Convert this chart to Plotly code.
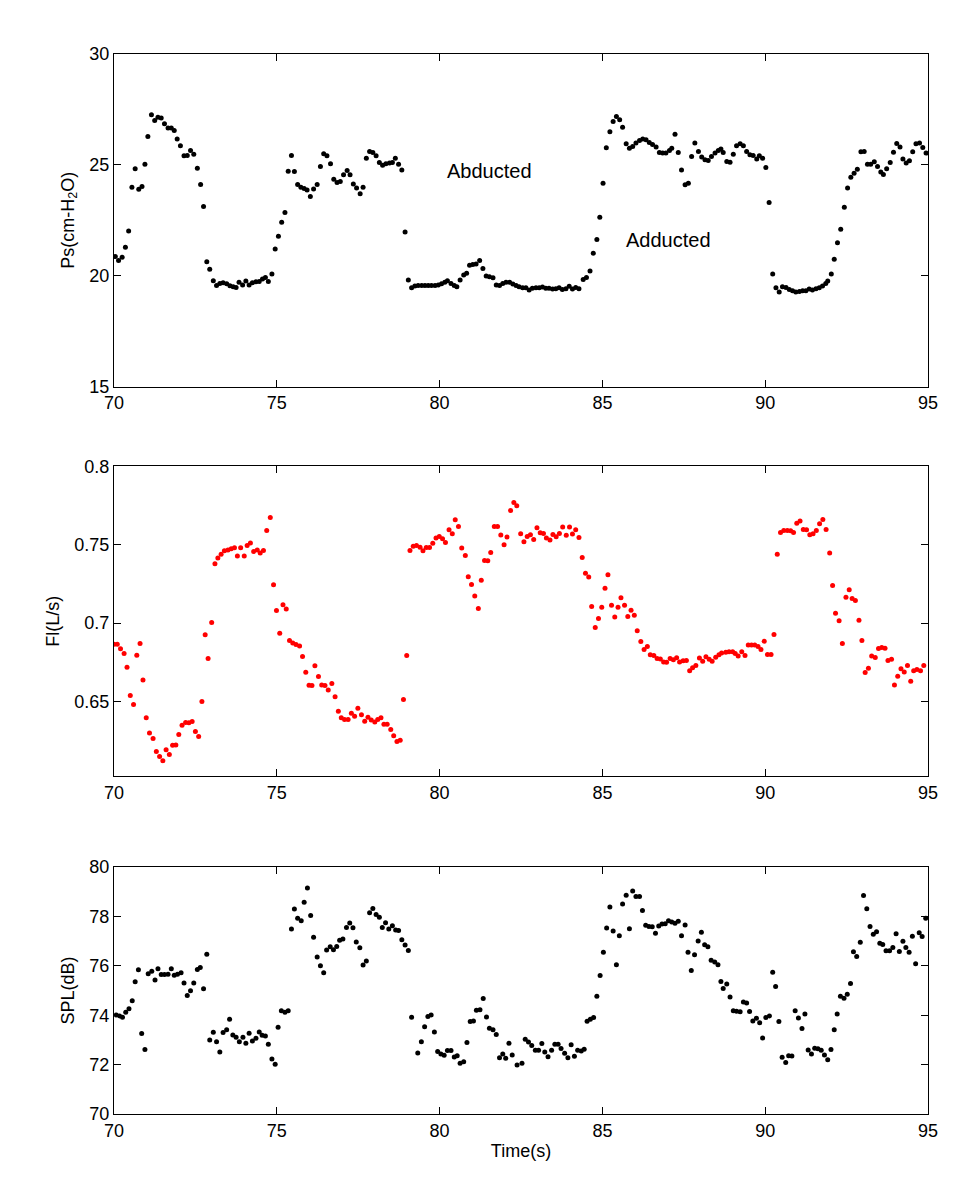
import plotly.graph_objects as go

# ---------------- data ----------------
t_ps = [70.04,70.14,70.25,70.35,70.45,70.55,70.65,70.76,70.86,70.95,71.04,71.15,71.25,71.35,71.45,71.55,71.66,71.76,71.85,71.94,
        72.04,72.15,72.25,72.35,72.45,72.56,72.66,72.75,72.85,72.94,73.05,73.15,73.25,73.35,73.46,73.56,73.66,73.75,73.84,73.95,
        74.05,74.15,74.25,74.36,74.46,74.56,74.65,74.74,74.85,74.95,75.05,75.15,75.25,75.35,75.45,75.54,75.64,75.74,75.84,75.93,
        76.03,76.13,76.24,76.34,76.44,76.54,76.65,76.75,76.85,76.95,77.05,77.16,77.25,77.35,77.45,77.56,77.65,77.75,77.85,77.95,
        78.05,78.15,78.25,78.35,78.46,78.55,78.64,78.74,78.84,78.94,79.04,79.14,79.24,79.34,79.45,79.55,79.65,79.75,79.86,79.96,
        80.06,80.16,80.24,80.35,80.45,80.53,80.63,80.74,80.83,80.92,81.02,81.12,81.23,81.33,81.43,81.53,81.64,81.74,81.84,81.94,
        82.04,82.15,82.25,82.35,82.44,82.55,82.65,82.75,82.85,82.96,83.06,83.16,83.26,83.36,83.47,83.57,83.67,83.77,83.88,83.98,
        84.08,84.18,84.28,84.41,84.51,84.62,84.72,84.83,84.92,85.02,85.12,85.23,85.33,85.43,85.53,85.62,85.73,85.83,85.93,86.03,
        86.14,86.24,86.34,86.44,86.54,86.65,86.75,86.85,86.95,87.06,87.13,87.23,87.33,87.43,87.54,87.64,87.74,87.84,87.95,88.05,
        88.15,88.25,88.35,88.46,88.56,88.64,88.71,88.82,88.92,89.02,89.12,89.23,89.33,89.43,89.53,89.63,89.74,89.82,89.92,90.02,
        90.12,90.23,90.33,90.43,90.53,90.64,90.74,90.84,90.94,91.05,91.15,91.25,91.35,91.45,91.56,91.66,91.76,91.86,91.92,92.03,
        92.12,92.22,92.32,92.43,92.53,92.63,92.73,92.83,92.94,93.04,93.14,93.24,93.35,93.45,93.55,93.63,93.73,93.84,93.94,94.04,
        94.14,94.23,94.33,94.43,94.53,94.63,94.74,94.84,94.94]
ps = [20.86,20.68,20.83,21.28,22.02,23.99,24.82,23.90,24.02,25.03,26.28,27.26,27.00,27.15,27.11,26.85,26.66,26.66,26.55,26.16,
      25.86,25.41,25.42,25.65,25.48,24.85,24.11,23.12,20.63,20.29,19.77,19.56,19.65,19.68,19.64,19.55,19.50,19.47,19.70,19.58,
      19.76,19.58,19.68,19.73,19.74,19.85,19.92,19.74,20.08,21.20,21.78,22.41,22.85,24.71,25.42,24.70,24.11,23.99,23.93,23.87,
      23.57,23.91,24.11,24.92,25.50,25.41,25.05,24.35,24.20,24.25,24.55,24.74,24.55,24.14,23.95,23.69,23.99,25.30,25.60,25.56,
      25.41,25.11,24.98,25.05,25.08,25.11,25.30,25.03,24.77,21.97,19.80,19.46,19.53,19.56,19.56,19.56,19.56,19.56,19.56,19.58,
      19.64,19.70,19.77,19.65,19.56,19.50,19.80,20.03,20.11,20.47,20.50,20.53,20.68,20.32,19.98,19.95,19.91,19.58,19.56,19.65,
      19.70,19.70,19.62,19.56,19.50,19.46,19.46,19.35,19.43,19.46,19.46,19.49,19.43,19.43,19.40,19.41,19.46,19.38,19.41,19.52,
      19.40,19.47,19.41,19.83,19.92,20.21,21.01,21.63,22.64,24.17,25.77,26.49,26.96,27.18,27.03,26.70,25.95,25.75,25.83,25.98,
      26.10,26.16,26.13,26.01,25.92,25.80,25.56,25.53,25.53,25.65,25.75,26.38,25.56,24.77,24.10,24.17,25.38,25.98,25.60,25.35,
      25.23,25.20,25.38,25.53,25.65,25.71,25.56,25.15,25.12,25.48,25.86,25.95,25.86,25.60,25.45,25.42,25.26,25.41,25.30,24.88,
      23.30,20.08,19.46,19.26,19.50,19.47,19.38,19.32,19.26,19.29,19.32,19.32,19.40,19.35,19.41,19.46,19.53,19.65,19.76,20.08,
      20.74,21.49,22.09,23.09,23.95,24.44,24.62,24.80,25.59,25.60,25.03,25.03,25.14,24.92,24.68,24.56,24.82,25.11,25.57,25.96,
      25.81,25.26,25.08,25.18,25.59,25.95,25.98,25.78,25.53]

t_fl = [70.00,70.10,70.20,70.31,70.40,70.50,70.60,70.70,70.80,70.89,70.99,71.09,71.20,71.30,71.40,71.50,71.60,71.70,71.80,71.90,
        71.99,72.09,72.20,72.30,72.40,72.50,72.60,72.70,72.80,72.89,73.00,73.10,73.19,73.29,73.39,73.50,73.60,73.70,73.79,73.89,
        74.00,74.09,74.19,74.29,74.40,74.49,74.59,74.69,74.80,74.90,74.99,75.09,75.19,75.29,75.39,75.49,75.59,75.70,75.79,75.89,
        75.99,76.08,76.17,76.28,76.38,76.48,76.58,76.69,76.79,76.89,76.98,77.08,77.19,77.29,77.39,77.49,77.60,77.70,77.80,77.90,
        78.01,78.10,78.20,78.29,78.39,78.50,78.59,78.69,78.79,78.89,78.99,79.09,79.19,79.29,79.40,79.49,79.59,79.69,79.79,79.89,
        79.99,80.09,80.18,80.29,80.39,80.48,80.58,80.68,80.79,80.88,80.98,81.08,81.19,81.28,81.38,81.48,81.57,81.68,81.78,81.88,
        81.98,82.07,82.18,82.28,82.37,82.49,82.59,82.69,82.79,82.89,82.99,83.09,83.19,83.28,83.39,83.48,83.58,83.68,83.78,83.89,
        83.99,84.08,84.18,84.28,84.38,84.48,84.58,84.67,84.78,84.88,84.98,85.08,85.17,85.28,85.38,85.48,85.57,85.68,85.78,85.88,
        85.98,86.07,86.18,86.28,86.38,86.47,86.58,86.68,86.78,86.88,86.97,87.08,87.18,87.28,87.37,87.48,87.58,87.68,87.77,87.87,
        87.98,88.08,88.18,88.28,88.37,88.48,88.58,88.66,88.79,88.89,89.00,89.08,89.17,89.28,89.38,89.48,89.58,89.68,89.78,89.87,
        89.97,90.07,90.18,90.27,90.37,90.47,90.57,90.68,90.78,90.87,90.97,91.07,91.17,91.27,91.37,91.47,91.57,91.67,91.77,91.87,
        91.98,92.07,92.16,92.27,92.37,92.48,92.58,92.67,92.77,92.88,92.97,93.07,93.17,93.27,93.38,93.48,93.58,93.68,93.77,93.88,
        93.97,94.07,94.17,94.27,94.37,94.47,94.56,94.66,94.77,94.87]
fl = [0.6866,0.6866,0.6836,0.6806,0.6719,0.6538,0.6481,0.6796,0.6870,0.6638,0.6396,0.6300,0.6264,0.6181,0.6149,0.6123,0.6192,0.6162,0.6221,0.6223,
      0.6289,0.6349,0.6366,0.6364,0.6372,0.6309,0.6277,0.6500,0.6926,0.6774,0.7004,0.7379,0.7415,0.7440,0.7462,0.7466,0.7474,0.7481,0.7428,0.7481,
      0.7428,0.7496,0.7511,0.7457,0.7466,0.7447,0.7464,0.7591,0.7674,0.7245,0.7081,0.6936,0.7117,0.7091,0.6889,0.6874,0.6864,0.6855,0.6787,0.6687,
      0.6604,0.6602,0.6728,0.6660,0.6606,0.6602,0.6574,0.6615,0.6530,0.6438,0.6396,0.6385,0.6385,0.6426,0.6406,0.6457,0.6415,0.6374,0.6400,0.6383,
      0.6370,0.6385,0.6396,0.6355,0.6355,0.6321,0.6281,0.6245,0.6253,0.6513,0.6794,0.7464,0.7491,0.7496,0.7485,0.7462,0.7483,0.7483,0.7509,0.7543,
      0.7553,0.7538,0.7515,0.7596,0.7570,0.7660,0.7617,0.7479,0.7432,0.7296,0.7247,0.7174,0.7094,0.7274,0.7400,0.7398,0.7451,0.7617,0.7617,0.7562,
      0.7500,0.7549,0.7719,0.7770,0.7749,0.7570,0.7519,0.7553,0.7564,0.7534,0.7609,0.7577,0.7572,0.7543,0.7530,0.7566,0.7551,0.7572,0.7613,0.7560,
      0.7613,0.7568,0.7596,0.7547,0.7419,0.7319,0.7294,0.7106,0.6972,0.7030,0.7102,0.7223,0.7309,0.7115,0.7040,0.7102,0.7162,0.7115,0.7043,0.7083,
      0.7051,0.6951,0.6883,0.6832,0.6851,0.6798,0.6794,0.6774,0.6772,0.6753,0.6751,0.6774,0.6766,0.6779,0.6753,0.6760,0.6762,0.6696,0.6715,0.6730,
      0.6777,0.6757,0.6785,0.6770,0.6757,0.6783,0.6798,0.6809,0.6815,0.6817,0.6817,0.6806,0.6791,0.6817,0.6794,0.6860,0.6860,0.6860,0.6851,0.6832,
      0.6885,0.6800,0.6800,0.6928,0.7440,0.7579,0.7591,0.7591,0.7589,0.7579,0.7638,0.7651,0.7598,0.7596,0.7564,0.7570,0.7591,0.7634,0.7662,0.7598,
      0.7447,0.7240,0.7064,0.7015,0.6870,0.7166,0.7213,0.7157,0.7145,0.7019,0.6889,0.6685,0.6713,0.6791,0.6781,0.6838,0.6845,0.6840,0.6762,0.6770,
      0.6606,0.6662,0.6709,0.6689,0.6730,0.6630,0.6696,0.6704,0.6696,0.6730]

t_spl = [70.07,70.17,70.26,70.36,70.46,70.56,70.65,70.75,70.85,70.95,71.05,71.16,71.26,71.35,71.45,71.55,71.66,71.76,71.85,71.95,
         72.06,72.15,72.25,72.35,72.45,72.56,72.65,72.75,72.85,72.94,73.05,73.15,73.25,73.35,73.46,73.55,73.65,73.75,73.85,73.96,
         74.05,74.15,74.25,74.36,74.46,74.55,74.65,74.74,74.85,74.95,75.04,75.14,75.25,75.35,75.45,75.54,75.64,75.75,75.84,75.94,
         76.04,76.13,76.24,76.34,76.44,76.53,76.64,76.74,76.84,76.93,77.03,77.14,77.24,77.34,77.44,77.55,77.65,77.75,77.85,77.95,
         78.05,78.15,78.24,78.34,78.44,78.55,78.65,78.74,78.84,78.94,79.04,79.14,79.33,79.44,79.54,79.64,79.74,79.84,79.94,80.04,
         80.14,80.24,80.35,80.45,80.54,80.63,80.74,80.84,80.94,81.04,81.13,81.24,81.34,81.44,81.53,81.64,81.74,81.84,81.94,82.03,
         82.13,82.23,82.38,82.53,82.63,82.73,82.83,82.94,83.04,83.14,83.23,83.33,83.44,83.54,83.64,83.73,83.84,83.94,84.04,84.14,
         84.24,84.35,84.44,84.53,84.63,84.73,84.83,84.93,85.03,85.13,85.23,85.33,85.43,85.52,85.62,85.73,85.83,85.93,86.03,86.14,
         86.23,86.33,86.43,86.53,86.63,86.73,86.83,86.93,87.03,87.13,87.23,87.33,87.43,87.54,87.63,87.73,87.83,87.94,88.04,88.14,
         88.24,88.34,88.45,88.55,88.64,88.71,88.82,88.92,89.02,89.12,89.23,89.33,89.43,89.52,89.62,89.73,89.83,89.92,90.02,90.13,
         90.23,90.32,90.42,90.52,90.63,90.72,90.82,90.92,91.02,91.13,91.22,91.32,91.42,91.52,91.62,91.72,91.82,91.92,92.02,92.12,
         92.21,92.31,92.42,92.52,92.62,92.71,92.81,92.92,93.02,93.12,93.22,93.32,93.42,93.52,93.61,93.71,93.82,93.92,94.02,94.12,
         94.23,94.32,94.42,94.52,94.62,94.73,94.82,94.93]
spl = [74.01,73.97,73.92,74.12,74.26,74.59,75.35,75.84,73.26,72.61,75.68,75.78,75.43,75.88,75.65,75.65,75.66,75.88,75.62,75.66,
       75.72,75.30,74.80,74.99,75.30,75.85,75.93,75.07,76.47,73.00,73.31,72.93,72.51,73.30,73.41,73.84,73.20,73.11,72.93,73.11,
       72.86,73.27,72.96,73.07,73.32,73.19,73.16,72.82,72.23,72.01,73.51,74.18,74.12,74.18,77.49,78.30,77.93,77.82,78.57,79.15,
       78.04,77.16,76.36,76.00,75.72,76.64,76.77,76.65,76.78,77.03,77.09,77.55,77.73,77.54,76.96,76.73,76.03,76.19,78.15,78.32,
       78.08,77.97,77.55,77.74,77.49,77.62,77.45,77.43,77.05,76.84,76.62,73.92,72.47,72.93,73.53,73.95,74.01,73.32,72.53,72.43,
       72.38,72.57,72.57,72.31,72.36,72.05,72.12,72.89,73.74,73.77,74.20,74.22,74.68,73.93,73.47,73.41,73.22,72.28,72.43,72.26,
       72.86,72.39,71.98,72.05,73.03,72.91,72.77,72.58,72.58,72.85,72.51,72.32,72.58,72.82,72.82,72.65,72.46,72.28,72.80,72.34,
       72.58,72.55,72.62,73.76,73.84,73.91,74.77,75.61,76.55,77.53,78.38,77.41,76.04,77.22,78.50,78.86,77.50,79.03,78.81,78.81,
       78.24,77.64,77.59,77.58,77.32,77.61,77.69,77.70,77.82,77.77,77.72,77.80,77.22,77.65,76.55,75.81,76.45,77.00,77.36,76.85,
       76.77,76.22,76.15,76.04,75.36,75.08,75.26,74.74,74.18,74.16,74.14,74.53,74.49,74.15,73.77,73.88,73.69,73.08,73.91,73.97,
       75.74,75.16,73.74,72.30,72.08,72.36,72.35,74.18,73.89,73.46,74.05,72.59,72.43,72.66,72.64,72.58,72.39,72.20,72.61,73.41,
       74.05,74.77,74.69,74.85,75.28,76.57,76.38,76.95,78.85,78.31,77.59,77.28,77.38,76.91,76.86,76.61,76.61,76.74,77.30,76.58,
       76.99,76.74,76.55,77.20,76.08,77.34,77.19,77.93]

x_ticks = [70, 75, 80, 85, 90, 95]
ps_ticks = [15, 20, 25, 30]
fl_ticks = [0.65, 0.7, 0.75, 0.8]
fl_ticklabels = ["0.65", "0.7", "0.75", "0.8"]
spl_ticks = [70, 72, 74, 76, 78, 80]

labels = [("Abducted", 80.21, 24.72), ("Adducted", 85.70, 21.61)]

# ---------------- figure ----------------
W, H = 963, 1179
ML, MR, MT, MB = 106, 43, 46, 73
plot_h = H - MT - MB


def dom(top_px, bot_px):
    return [(H - MB - bot_px) / plot_h, (H - MB - top_px) / plot_h]


FONT = "Liberation Sans, Arial, Helvetica, sans-serif"
FS = 18

fig = go.Figure()
fig.add_trace(go.Scatter(x=t_ps, y=ps, mode="markers", xaxis="x", yaxis="y",
                         marker=dict(size=5, color="black"), showlegend=False))
fig.add_trace(go.Scatter(x=t_fl, y=fl, mode="markers", xaxis="x2", yaxis="y2",
                         marker=dict(size=5, color="#ff0000"), showlegend=False))
fig.add_trace(go.Scatter(x=t_spl, y=spl, mode="markers", xaxis="x3", yaxis="y3",
                         marker=dict(size=5, color="black"), showlegend=False))

axis_common = dict(showline=True, mirror="ticks", linecolor="black", linewidth=1,
                   ticks="inside", ticklen=7, tickcolor="black", tickwidth=1,
                   showgrid=False, zeroline=False,
                   tickfont=dict(family=FONT, size=FS, color="black"))
title_font = dict(family=FONT, size=FS, color="black")

xa = dict(range=[70, 95], tickvals=x_ticks, **axis_common)
fig.update_layout(
    xaxis=dict(domain=[0, 1], anchor="y", **xa),
    xaxis2=dict(domain=[0, 1], anchor="y2", **xa),
    xaxis3=dict(domain=[0, 1], anchor="y3",
                title=dict(text="Time(s)", font=title_font, standoff=4),
                **xa),
    yaxis=dict(domain=dom(46, 378.5), anchor="x", range=[15, 30], tickvals=ps_ticks,
               title=dict(text="Ps(cm-H<sub>2</sub>O)", font=title_font, standoff=10),
               **axis_common),
    yaxis2=dict(domain=dom(458.4, 768), anchor="x2", range=[0.6025, 0.8], tickvals=fl_ticks,
                ticktext=fl_ticklabels,
                title=dict(text="Fl(L/s)", font=title_font, standoff=10),
                **axis_common),
    yaxis3=dict(domain=dom(859, 1106), anchor="x3", range=[70, 80], tickvals=spl_ticks,
                title=dict(text="SPL(dB)", font=title_font, standoff=10),
                **axis_common),
    width=W, height=H,
    margin=dict(l=ML, r=MR, t=MT, b=MB),
    paper_bgcolor="white", plot_bgcolor="white",
    font=dict(family=FONT, size=FS, color="black"),
)

for text, tx, ty in labels:
    fig.add_annotation(x=tx, y=ty, xref="x", yref="y", text=text, showarrow=False,
                       xanchor="left", yanchor="middle", borderpad=0,
                       font=dict(family=FONT, size=20, color="black"))

fig.write_html("out.html")
